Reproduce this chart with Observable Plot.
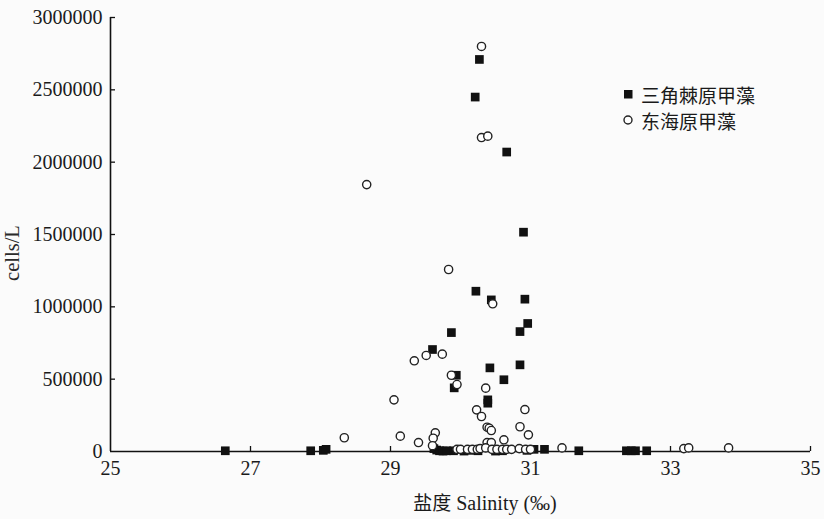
<!DOCTYPE html>
<html>
<head>
<meta charset="utf-8">
<script src="https://cdn.jsdelivr.net/npm/d3@7"></script>
<script src="https://cdn.jsdelivr.net/npm/@observablehq/plot@0.6"></script>
<style>
  html, body { margin: 0; padding: 0; background: #fbfbfb; }
  #wrap { position: relative; width: 824px; height: 519px; }
  .legend { position: absolute; left: 622px; top: 81px; font-family: "Noto Sans CJK SC", sans-serif; font-size: 19px; color: #1a1a1a; }
  .legend div { display: flex; align-items: center; height: 26px; }
  .legend span { line-height: 1; }
  .legend svg { margin-right: 7px; }
</style>
</head>
<body>
<div id="wrap"></div>
<script>
// 三角棘原甲藻 (filled squares): salinity (‰), cells/L
const sqSalinity = [
  30.27, 30.21, 30.66, 30.90, 30.22, 30.44, 30.92, 30.96, 30.85, 29.87,
  29.60, 30.42, 30.85, 30.62, 29.94, 29.91, 30.39, 30.39,
  26.64, 27.86, 28.04, 28.08, 29.62, 29.66, 29.70, 29.75, 29.80, 29.90,
  30.05, 30.15, 30.25, 30.50, 30.60, 30.95, 31.05, 31.20, 31.69, 32.37,
  32.44, 32.50, 32.66
];
const sqCells = [
  2710000, 2450000, 2070000, 1516000, 1108000, 1048000, 1053000, 885000, 829000, 822000,
  705000, 578000, 599000, 496000, 527000, 440000, 357000, 334000,
  5000, 5000, 8000, 15000, 20000, 10000, 5000, 3000, 5000, 5000,
  3000, 8000, 5000, 3000, 5000, 8000, 15000, 15000, 5000, 5000,
  5000, 5000, 5000
];
// 东海原甲藻 (open circles): salinity (‰), cells/L
const ciSalinity = [
  28.66, 30.30, 30.30, 30.39, 29.83, 30.46, 29.51, 29.74, 29.34, 29.87,
  29.95, 30.36, 29.05, 30.92, 30.23, 30.30, 30.38, 30.41, 30.44, 30.85,
  30.97, 29.14, 29.40, 29.64, 29.61, 30.62, 30.38, 30.44, 28.34,
  29.60, 29.95, 30.00, 30.10, 30.17, 30.24, 30.28, 30.36, 30.45, 30.52,
  30.60, 30.66, 30.73, 30.84, 30.93, 31.00, 31.45, 33.19, 33.26, 33.83
];
const ciCells = [
  1845000, 2800000, 2170000, 2180000, 1258000, 1021000, 664000, 673000, 627000, 527000,
  463000, 438000, 357000, 290000, 288000, 242000, 168000, 161000, 145000, 171000,
  115000, 106000, 62000, 129000, 92000, 81000, 62000, 62000, 95000,
  40000, 15000, 15000, 15000, 15000, 15000, 20000, 25000, 15000, 15000,
  15000, 15000, 15000, 20000, 15000, 15000, 25000, 20000, 25000, 25000
];
const xTicks = [25, 27, 29, 31, 33, 35];
const yTicks = [0, 500000, 1000000, 1500000, 2000000, 2500000, 3000000];
const seriesNames = ["三角棘原甲藻", "东海原甲藻"];
const xLabelCJK = "盐度";
const xLabelLatin = " Salinity (‰)";
const yLabel = "cells/L";

const squares = sqSalinity.map((s, i) => ({s, c: sqCells[i]}));
const circles = ciSalinity.map((s, i) => ({s, c: ciCells[i]}));

const W = 824, H = 519, mL = 110, mR = 14, mT = 17, mB = 68;
const plotH = H - mT - mB, plotW = W - mL - mR;
const serif = "'Liberation Serif', 'Times New Roman', serif";

const chart = Plot.plot({
  width: W, height: H,
  marginLeft: mL, marginRight: mR, marginTop: mT, marginBottom: mB,
  style: {background: "transparent", fontFamily: serif, fontSize: "20px", color: "#1a1a1a"},
  x: {domain: [25, 35]},
  y: {domain: [0, 3000000]},
  marks: [
    Plot.axisX(xTicks, {tickSize: 0, tickPadding: 9, fontSize: 20, label: null, tickFormat: d => String(d)}),
    Plot.axisY(yTicks, {tickSize: 0, tickPadding: 8, fontSize: 20, label: null, tickFormat: d => String(d)}),
    Plot.tickX(xTicks.slice(1), {x: d => d, insetTop: plotH - 5, stroke: "#111", strokeWidth: 1.3}),
    Plot.tickY(yTicks.slice(1), {y: d => d, insetRight: plotW - 5, stroke: "#111", strokeWidth: 1.3}),
    Plot.ruleY([0], {stroke: "#111", strokeWidth: 1.6}),
    Plot.ruleX([25], {stroke: "#111", strokeWidth: 1.6}),
    Plot.dot(squares, {x: "s", y: "c", symbol: "square", r: 4.9, fill: "#111", stroke: "none"}),
    Plot.dot(circles, {x: "s", y: "c", symbol: "circle", r: 4.1, fill: "white", stroke: "#222", strokeWidth: 1.4})
  ]
});

const svg = d3.select(chart);
const t = svg.append("text")
  .attr("x", 485).attr("y", 505)
  .attr("text-anchor", "middle").attr("dominant-baseline", "middle")
  .attr("font-size", 19).attr("fill", "#1a1a1a");
t.append("tspan").attr("font-family", "'Noto Sans CJK SC', sans-serif").text(xLabelCJK);
t.append("tspan").attr("font-family", serif).attr("font-size", 20).text(xLabelLatin);
svg.append("text")
  .attr("transform", "translate(14,253) rotate(-90)")
  .attr("text-anchor", "middle").attr("dominant-baseline", "middle")
  .attr("font-family", serif)
  .attr("font-size", 20.5).attr("fill", "#2a2a2a")
  .text(yLabel);

const wrap = document.getElementById("wrap");
wrap.appendChild(chart);

const legend = document.createElement("div");
legend.className = "legend";
legend.innerHTML =
  `<div><svg width="12" height="12"><rect x="2" y="2" width="8.5" height="8.5" fill="#111"/></svg><span>${seriesNames[0]}</span></div>` +
  `<div><svg width="12" height="12"><circle cx="6" cy="6" r="4" fill="white" stroke="#222" stroke-width="1.4"/></svg><span>${seriesNames[1]}</span></div>`;
wrap.appendChild(legend);
</script>
</body>
</html>
